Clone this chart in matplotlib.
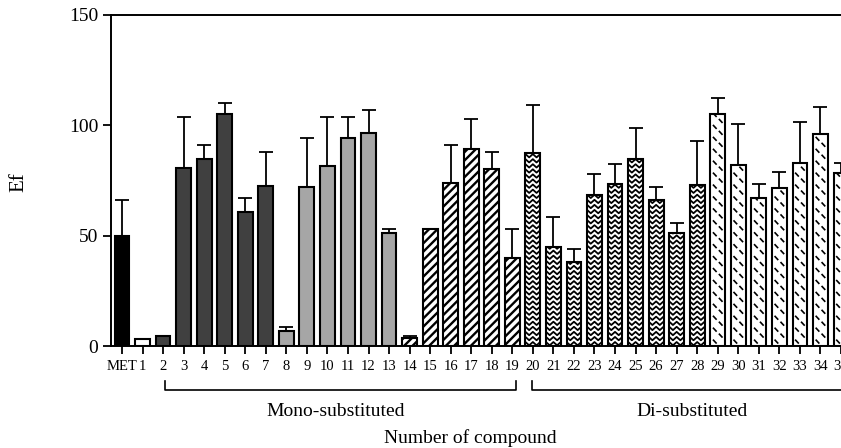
import numpy as np
import matplotlib.pyplot as plt
from matplotlib.collections import LineCollection
from matplotlib.transforms import blended_transform_factory

plt.rcParams['font.family'] = ['Liberation Serif', 'DejaVu Serif']
plt.rcParams['hatch.linewidth'] = 1.7

# compound labels (MET, then 1..35)
labels = ['MET', '1'] + [str(i) for i in range(2, 36)]

# Ef values
values = [50, 3, 4.5, 80.5, 84.5, 105, 60.5, 72.5, 7, 72, 81.5, 94, 96.5, 51,
          3.5, 53, 74, 89, 80, 40, 87.5, 45, 38, 68.5, 73.5, 84.5, 66, 51, 73,
          105, 82, 67, 71.5, 83, 96, 78.5]

# upper error (only the upper half is drawn)
errors = [16, 0, 0, 23, 6.5, 5, 6.5, 15.5, 1.5, 22, 22, 9.5, 10.5, 2,
          1.2, 0, 17, 14, 8, 13, 21.5, 13.5, 6, 9.5, 9, 14, 6, 4.5, 20,
          7.5, 18.5, 6.5, 7.5, 18.5, 12, 4.5]

# fill style of each bar
groups = (['met', 'blank'] + ['dark'] * 6 + ['light'] * 6 + ['diag'] * 6
          + ['zig'] * 9 + ['dash'] * 7)

fig = plt.figure(figsize=(8.41, 4.48), dpi=100)
ax = fig.add_axes([111 / 841, 102 / 448, 1 - 111 / 841, 331.3 / 448])

x = np.arange(len(values))
face = {'met': 'black', 'blank': 'white', 'dark': '#404040', 'light': '#a6a6a6',
        'diag': 'white', 'zig': 'white', 'dash': 'white'}
bars = ax.bar(x, values, width=0.72, color=[face[g] for g in groups],
              edgecolor='black', linewidth=1.5, zorder=2,
              hatch=['////' if g == 'diag' else None for g in groups])

# chevron and dash patterns, clipped to their bars
for b, g in zip(bars, groups):
    x0, w, h = b.get_x(), b.get_width(), b.get_height()
    segs = []
    if g == 'zig':
        xs = np.linspace(x0, x0 + w, 5)
        for y in np.arange(0.3, h + 2, 2.3):
            ys = y + np.array([1.5, 0, 1.5, 0, 1.5])
            segs.append(np.column_stack([xs, ys]))
        lw = 1.3
    elif g == 'dash':
        for k, y in enumerate(np.arange(2.0, h, 2.7)):
            cx = x0 + w * (0.3 if k % 2 == 0 else 0.7)
            segs.append([(cx - 0.09, y + 0.9), (cx + 0.09, y - 0.9)])
        lw = 1.2
    else:
        continue
    lc = LineCollection(segs, colors='black', linewidths=lw, zorder=2.5)
    ax.add_collection(lc)
    lc.set_clip_path(b)

ax.errorbar(x, values, yerr=[np.zeros(len(errors)), errors], fmt='none',
            ecolor='black', elinewidth=1.3, capsize=4.8, capthick=1.3, zorder=3)

ax.set_xlim(-0.535, 34.99)
ax.set_ylim(0, 150)
ax.set_yticks([0, 50, 100, 150])
ax.set_xticks(x, labels)
ax.tick_params(axis='y', direction='out', length=6, width=1.3, labelsize=14, pad=3)
ax.tick_params(axis='x', direction='out', length=6, width=1.3, labelsize=10.5, pad=4)
for s in ['left', 'bottom', 'top']:
    ax.spines[s].set_linewidth(1.4)
ax.spines['right'].set_visible(False)

# group brackets under the axis
tr = blended_transform_factory(ax.transData, fig.transFigure)
yb, yt = 1 - 390 / 448, 1 - 381 / 448
ax.plot([2.07, 2.07, 19.2, 19.2], [yt, yb, yb, yt], color='black', lw=1.2,
        transform=tr, clip_on=False)
ax.plot([19.94, 19.94, 36], [yt, yb, yb], color='black', lw=1.2,
        transform=tr, clip_on=False)

fig.text(336 / 841, 1 - 412 / 448, 'Mono-substituted', ha='center', va='center', fontsize=14)
fig.text(692 / 841, 1 - 412 / 448, 'Di-substituted', ha='center', va='center', fontsize=14)
fig.text(470 / 841, 1 - 438 / 448, 'Number of compound', ha='center', va='center', fontsize=14)
fig.text(19 / 841, 1 - 182 / 448, 'Ef', ha='center', va='center', rotation=90, fontsize=15)

fig.savefig('out.png', dpi=100)
